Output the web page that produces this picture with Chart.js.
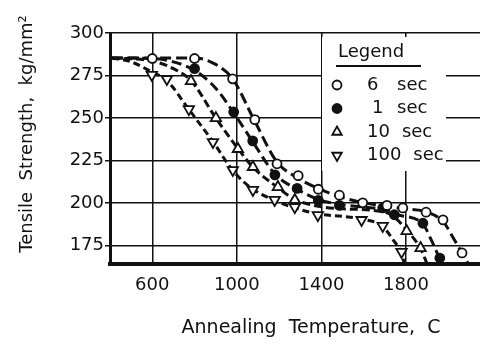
<!DOCTYPE html>
<html>
<head>
<meta charset="utf-8">
<script src="https://cdn.jsdelivr.net/npm/chart.js@4.4.1/dist/chart.umd.min.js"></script>
<style>
  html, body { margin: 0; padding: 0; background: #fff; overflow: hidden; }
  #wrap { width: 480px; height: 345px; }
</style>
</head>
<body>
<div id="wrap"><canvas id="chartTensile"></canvas></div>
<script>
// eixos
const xTicks = [600, 1000, 1400, 1800];
const yTicks = [175, 200, 225, 250, 275, 300];
const xTitle = 'Annealing  Temperature,  C';
const yTitle = 'Tensile  Strength,  kg/mm\u00b2';
const legendTitle = 'Legend';
const seriesNames = ['6', '1', '10', '100'];

// pontos medidos
const temp6s = [600, 800, 980, 1085, 1190, 1290, 1385, 1485, 1595, 1710, 1785, 1895, 1975, 2065];
const str6s = [285, 285, 273, 249, 223, 216, 208, 204.5, 200, 198.5, 197, 194.5, 190, 170.5];

const temp1s = [800, 985, 1075, 1180, 1285, 1385, 1485, 1690, 1745, 1880, 1960];
const str1s = [279, 253.5, 236.5, 216.5, 208.5, 201.5, 198.5, 197, 193, 188, 167.5];

const temp10s = [783, 901, 1005, 1076, 1194, 1274, 1803, 1869];
const str10s = [271.7, 249.9, 231.7, 221.1, 209.3, 201.7, 183.4, 173.4];

const temp100s = [598, 669, 773, 887, 981, 1076, 1179, 1274, 1383, 1590, 1690, 1779];
const str100s = [275.3, 272.9, 255.2, 235.8, 219.3, 207.6, 201.7, 197.5, 192.8, 189.9, 186.4, 171.1];

// curvas ajustadas
const curveT6 = [410, 600, 800, 900, 980, 1085, 1190, 1290, 1385, 1490, 1600, 1710, 1790, 1900, 1975, 2030, 2095];
const curveS6 = [285.3, 285.3, 285.3, 281.5, 273, 248, 224, 214.5, 208.5, 203.5, 200, 198, 196.5, 194.5, 189, 178, 164];

const curveT1 = [410, 600, 700, 800, 900, 985, 1075, 1180, 1285, 1385, 1490, 1600, 1700, 1760, 1880, 1920, 1970];
const curveS1 = [285.3, 285, 283, 278, 267.5, 253, 236, 217, 208, 202, 199, 197.5, 196, 193, 187.5, 178, 164];

const curveT10 = [410, 600, 700, 783, 900, 1005, 1076, 1194, 1274, 1385, 1500, 1650, 1730, 1803, 1869, 1900];
const curveS10 = [285.3, 283.5, 279, 272, 250, 232, 221, 209, 202, 198, 196.5, 195.5, 193, 184, 173, 164];

const curveT100 = [410, 500, 598, 669, 773, 887, 981, 1076, 1179, 1274, 1383, 1500, 1590, 1690, 1740, 1780, 1792];
const curveS100 = [285.3, 283, 277, 272, 255, 236, 219, 208, 201.5, 197, 193.5, 192, 190.5, 186, 178, 170, 164];

const FONT = '"DejaVu Sans", sans-serif';
const INK = '#111';

function pts(xs, ys) {
    return xs.map((x, i) => ({ x: x, y: ys[i] }));
}

function curve(xs, ys, dash) {
    return {
        type: 'line',
        data: pts(xs, ys),
        borderColor: INK,
        borderWidth: 3,
        borderDash: dash,
        pointRadius: 0,
        cubicInterpolationMode: 'monotone',
        fill: false,
        order: 2
    };
}

function markers(label, xs, ys, style, rotation, fillColor, radius) {
    return {
        type: 'scatter',
        label: label,
        data: pts(xs, ys),
        pointStyle: style,
        rotation: rotation,
        pointRadius: radius,
        pointBorderWidth: 1.8,
        pointBorderColor: INK,
        pointBackgroundColor: fillColor,
        backgroundColor: fillColor,
        borderColor: INK,
        showLine: false,
        order: 1
    };
}

// legenda desenhada dentro do gráfico
const legendBox = {
    id: 'legendBox',
    beforeDatasetsDraw(chart) {
        const ctx = chart.ctx;
        ctx.save();
        ctx.fillStyle = '#fff';
        ctx.fillRect(322, 37, 124, 134);
        ctx.fillStyle = INK;
        ctx.font = '18px ' + FONT;
        ctx.textBaseline = 'middle';
        ctx.textAlign = 'left';
        ctx.fillText(legendTitle, 338, 52);
        ctx.fillRect(336, 65, 85, 2);

        const marks = chart.data.datasets.filter(d => d.type === 'scatter');
        marks.forEach((d, i) => {
            const y = 85 + i * 23.5;
            const x = 337;
            ctx.lineWidth = 1.8;
            ctx.strokeStyle = INK;
            ctx.fillStyle = d.pointBackgroundColor;
            ctx.beginPath();
            if (d.pointStyle === 'circle') {
                ctx.arc(x, y, 4.5, 0, Math.PI * 2);
            } else {
                const r = 5.5;
                const s = d.rotation === 180 ? -1 : 1;
                ctx.moveTo(x, y - s * r);
                ctx.lineTo(x + r * 0.866, y + s * r * 0.5);
                ctx.lineTo(x - r * 0.866, y + s * r * 0.5);
                ctx.closePath();
            }
            ctx.fill();
            ctx.stroke();

            ctx.fillStyle = INK;
            const num = seriesNames[i];
            const nx = num === '1' ? 372 : 367;
            ctx.fillText(num, nx, y);
            const w = ctx.measureText(num).width;
            ctx.fillText('sec', Math.max(397, nx + w + 12), y);
        });
        ctx.restore();
    }
};

// títulos dos eixos
const axisTitles = {
    id: 'axisTitles',
    afterDraw(chart) {
        const ctx = chart.ctx;
        ctx.save();
        ctx.fillStyle = INK;
        ctx.font = '19px ' + FONT;
        ctx.textAlign = 'center';
        ctx.textBaseline = 'middle';
        ctx.fillText(xTitle, 311, 328);
        ctx.font = '18px ' + FONT;
        ctx.translate(27, 134);
        ctx.rotate(-Math.PI / 2);
        ctx.fillText(yTitle, 0, 0);
        ctx.restore();
    }
};

const chartTensile = document.getElementById('chartTensile');

new Chart(chartTensile, {
    data: {
        datasets: [
            curve(curveT6, curveS6, [11, 5]),
            curve(curveT1, curveS1, [10, 5]),
            curve(curveT10, curveS10, [8, 4]),
            curve(curveT100, curveS100, [7, 4]),
            markers('6 sec', temp6s, str6s, 'circle', 0, '#fff', 4.5),
            markers('1 sec', temp1s, str1s, 'circle', 0, INK, 4.5),
            markers('10 sec', temp10s, str10s, 'triangle', 0, '#fff', 6),
            markers('100 sec', temp100s, str100s, 'triangle', 180, '#fff', 6)
        ]
    },
    options: {
        responsive: true,
        maintainAspectRatio: false,
        animation: false,
        layout: { autoPadding: false, padding: { top: 33, right: 0, left: 0, bottom: 0 } },
        plugins: {
            legend: { display: false },
            tooltip: { enabled: false }
        },
        scales: {
            x: {
                type: 'linear',
                min: 400,
                max: 2150,
                afterBuildTicks: s => { s.ticks = xTicks.map(v => ({ value: v })); },
                afterFit: s => { s.height = 81; s.paddingLeft = 0; s.paddingRight = 0; },
                grid: { color: INK, lineWidth: 1.5, drawTicks: false },
                border: { display: true, color: INK, width: 4 },
                ticks: {
                    color: INK, padding: 11, font: { family: FONT, size: 18 },
                    callback: v => String(v)
                }
            },
            y: {
                type: 'linear',
                min: 164,
                max: 300,
                afterBuildTicks: s => { s.ticks = yTicks.map(v => ({ value: v })); },
                afterFit: s => { s.width = 110; s.paddingTop = 0; s.paddingBottom = 0; },
                grid: { color: INK, lineWidth: 1.5, tickLength: 5 },
                border: { display: true, color: INK, width: 3 },
                ticks: {
                    color: INK, padding: 1, font: { family: FONT, size: 18 },
                    callback: v => String(v)
                }
            }
        }
    },
    plugins: [legendBox, axisTitles]
});
</script>
</body>
</html>
